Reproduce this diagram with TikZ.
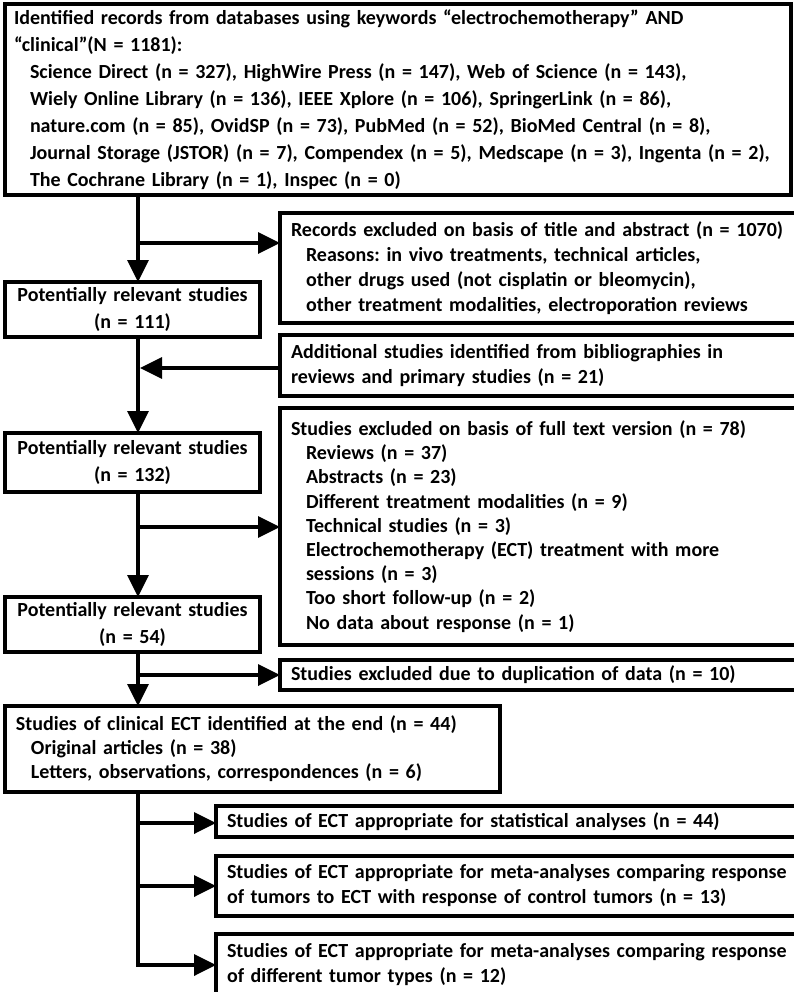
\documentclass[tikz,border=0pt]{standalone}
\usepackage{fontspec}
\setmainfont{Carlito}
\usetikzlibrary{arrows.meta}
\begin{document}
\frenchspacing
\begin{tikzpicture}[x=1pt,y=-1pt,
  box/.style={draw, line width=3.5pt, outer sep=0pt, anchor=north west, align=left,
    inner xsep=11pt, inner ysep=0pt, font=\fontsize{20}{25}\selectfont\bfseries},
  prbox/.style={box, align=center, text width=233pt, minimum height=#1,
    font=\fontsize{20}{27}\selectfont\bfseries},
  arr/.style={line width=3.5pt, line join=miter, -{Triangle[length=22pt,width=21pt]}}]
\path[fill=white, use as bounding box] (0,0) rectangle (794,992);
\clip (0,0) rectangle (794,992);

\node[box, inner xsep=9pt, text width=768pt, minimum height=191pt,
  font=\fontsize{20}{27}\selectfont\bfseries] (top) at (5,4) {%
\mbox{Identified records from databases using keywords “electrochemotherapy” AND}\\
\mbox{“clinical”(N = 1181):}\\
\mbox{\hspace*{16pt}Science Direct (n = 327), HighWire Press (n = 147), Web of Science (n = 143),}\\
\mbox{\hspace*{16pt}Wiely Online Library (n = 136), IEEE Xplore (n = 106), SpringerLink (n = 86),}\\
\mbox{\hspace*{16pt}nature.com (n = 85), OvidSP (n = 73), PubMed (n = 52), BioMed Central (n = 8),}\\
\mbox{\hspace*{16pt}Journal Storage (JSTOR) (n = 7), Compendex (n = 5), Medscape (n = 3), Ingenta (n = 2),}\\
\mbox{\hspace*{16pt}The Cochrane Library (n = 1), Inspec (n = 0)}};

\node[box, text width=518pt, minimum height=110pt] (rec) at (280,213) {%
\mbox{Records excluded on basis of title and abstract (n = 1070)}\\
\mbox{\hspace*{15pt}Reasons: in vivo treatments, technical articles,}\\
\mbox{\hspace*{15pt}other drugs used (not cisplatin or bleomycin),}\\
\mbox{\hspace*{15pt}other treatment modalities, electroporation reviews}};

\node[prbox=55pt] (pr1) at (5,282) {Potentially relevant studies\\(n = 111)};

\node[box, text width=518pt, minimum height=61pt] (add) at (280,335) {%
\mbox{Additional studies identified from bibliographies in}\\
\mbox{reviews and primary studies (n = 21)}};

\node[prbox=59pt] (pr2) at (5,433) {Potentially relevant studies\\(n = 132)};

\node[box, text width=518pt, minimum height=237pt,
  font=\fontsize{20}{24.2}\selectfont\bfseries] (full) at (280,408) {%
\mbox{Studies excluded on basis of full text version (n = 78)}\\
\mbox{\hspace*{15pt}Reviews (n = 37)}\\
\mbox{\hspace*{15pt}Abstracts (n = 23)}\\
\mbox{\hspace*{15pt}Different treatment modalities (n = 9)}\\
\mbox{\hspace*{15pt}Technical studies (n = 3)}\\
\mbox{\hspace*{15pt}Electrochemotherapy (ECT) treatment with more}\\
\mbox{\hspace*{15pt}sessions (n = 3)}\\
\mbox{\hspace*{15pt}Too short follow-up (n = 2)}\\
\mbox{\hspace*{15pt}No data about response (n = 1)}};

\node[prbox=55pt] (pr3) at (5,597) {Potentially relevant studies\\(n = 54)};

\node[box, text width=518pt, minimum height=30pt] (dup) at (280,660) {%
\mbox{Studies excluded due to duplication of data (n = 10)}};

\node[box, text width=473pt, minimum height=86pt,
  font=\fontsize{20}{24}\selectfont\bfseries] (clin) at (5,706) {%
\mbox{Studies of clinical ECT identified at the end (n = 44)}\\
\mbox{\hspace*{15pt}Original articles (n = 38)}\\
\mbox{\hspace*{15pt}Letters, observations, correspondences (n = 6)}};

\node[box, text width=582pt, minimum height=31pt] (stat) at (216,806) {%
\mbox{Studies of ECT appropriate for statistical analyses (n = 44)}};

\node[box, text width=582pt, minimum height=60pt] (meta1) at (216,856) {%
\mbox{Studies of ECT appropriate for meta-analyses comparing response}\\
\mbox{of tumors to ECT with response of control tumors (n = 13)}};

\node[box, text width=582pt, minimum height=61pt] (meta2) at (216,934) {%
\mbox{Studies of ECT appropriate for meta-analyses comparing response}\\
\mbox{of different tumor types (n = 12)}};

% connectors
\coordinate (ax) at (138,0);
\coordinate (j1) at (138,243);
\coordinate (j2) at (140,368);
\coordinate (j3) at (138,527);
\coordinate (j4) at (138,675);
\coordinate (j5) at (138,823);
\coordinate (j6) at (138,886);
\coordinate (j7) at (138,965);

\draw[arr] (top.south -| ax) -- (pr1.north -| ax);
\draw[arr] (j1) -- (j1 -| rec.west);
\draw[arr] (pr1.south -| ax) -- (pr2.north -| ax);
\draw[arr] (j2 -| add.west) -- (j2);
\draw[arr] (j3) -- (j3 -| full.west);
\draw[arr] (pr2.south -| ax) -- (pr3.north -| ax);
\draw[arr] (j4) -- (j4 -| dup.west);
\draw[arr] (pr3.south -| ax) -- (clin.north -| ax);
\draw[arr] (j5) -- (j5 -| stat.west);
\draw[arr] (j6) -- (j6 -| meta1.west);
\draw[arr] (clin.south -| ax) -- (j7) -- (j7 -| meta2.west);
\end{tikzpicture}
\end{document}
